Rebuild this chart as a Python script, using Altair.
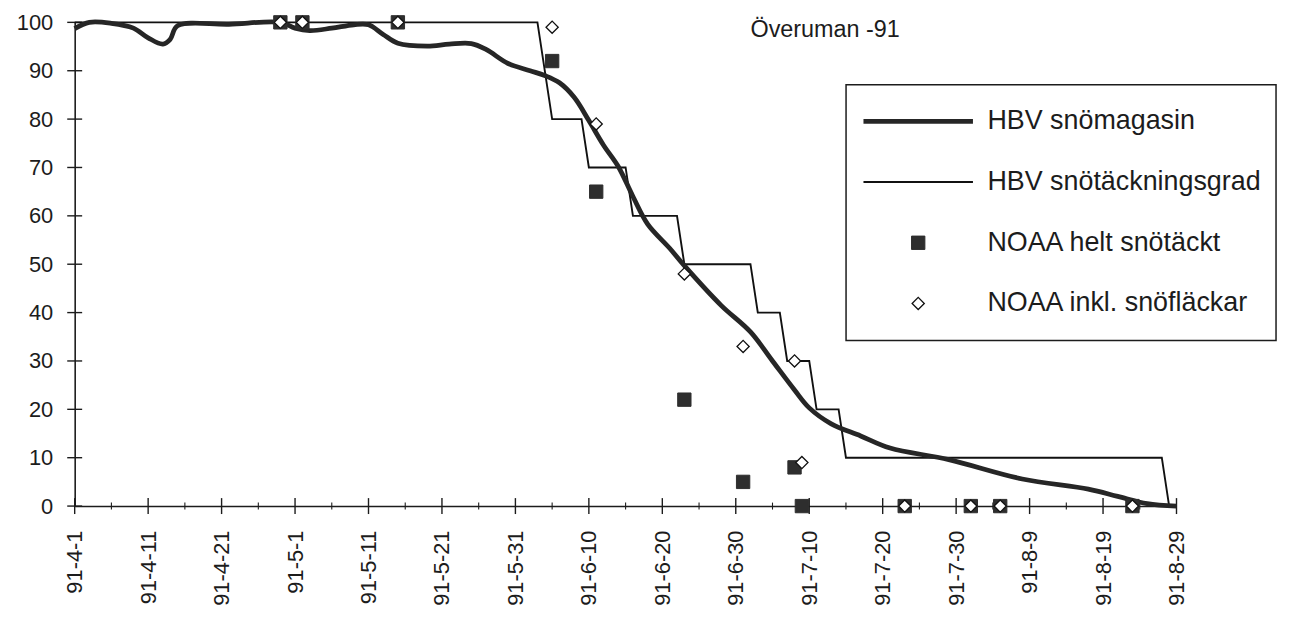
import altair as alt
import pandas as pd

# ---------------- data ----------------
series_names = ["HBV snömagasin", "HBV snötäckningsgrad",
                "NOAA helt snötäckt", "NOAA inkl. snöfläckar"]

# HBV snömagasin (thick smooth line)
mag_dates = ["1991-04-01", "1991-04-03", "1991-04-06", "1991-04-09", "1991-04-11",
             "1991-04-13", "1991-04-14", "1991-04-15", "1991-04-22", "1991-04-29",
             "1991-05-01", "1991-05-03", "1991-05-06", "1991-05-09", "1991-05-11",
             "1991-05-13", "1991-05-15", "1991-05-19", "1991-05-22", "1991-05-25",
             "1991-05-27", "1991-05-30", "1991-06-02", "1991-06-04", "1991-06-06",
             "1991-06-08", "1991-06-10", "1991-06-12", "1991-06-14", "1991-06-16",
             "1991-06-18", "1991-06-21", "1991-06-23", "1991-06-28", "1991-07-02",
             "1991-07-05", "1991-07-08", "1991-07-10", "1991-07-13", "1991-07-17",
             "1991-07-21", "1991-07-29", "1991-08-08", "1991-08-17", "1991-08-21",
             "1991-08-25", "1991-08-29"]
mag_values = [98.7, 100, 99.8, 98.8, 96.8,
              95.5, 96.5, 99.3, 99.6, 100,
              98.8, 98.3, 98.8, 99.5, 99.5,
              97.5, 95.7, 95.1, 95.5, 95.6,
              94.4, 91.5, 90, 89, 87.5,
              84.5, 79.7, 74.6, 70.2, 64,
              58.3, 53.3, 49.7, 41.5, 36,
              30, 24, 20.3, 17, 14.5,
              12, 9.6, 5.6, 3.5, 2,
              0.5, 0]

# HBV snötäckningsgrad (thin step line)
grad_dates = ["1991-04-01", "1991-06-03", "1991-06-05", "1991-06-09", "1991-06-10",
              "1991-06-15", "1991-06-16", "1991-06-22", "1991-06-23", "1991-07-02",
              "1991-07-03", "1991-07-06", "1991-07-07", "1991-07-10", "1991-07-11",
              "1991-07-14", "1991-07-15", "1991-08-27", "1991-08-28"]
grad_values = [100, 100, 80, 80, 70,
               70, 60, 60, 50, 50,
               40, 40, 30, 30, 20,
               20, 10, 10, 0]

# NOAA observations
noaa_dates = ["1991-04-29", "1991-05-02", "1991-05-15", "1991-06-05", "1991-06-11",
              "1991-06-23", "1991-07-01", "1991-07-08", "1991-07-09", "1991-07-23",
              "1991-08-01", "1991-08-05", "1991-08-23"]
noaa_full = [100, 100, 100, 92, 65, 22, 5, 8, 0, 0, 0, 0, 0]
noaa_incl = [100, 100, 100, 99, 79, 48, 33, 30, 9, 0, 0, 0, 0]

# axes
x_tick_dates = ["1991-04-01", "1991-04-11", "1991-04-21", "1991-05-01", "1991-05-11",
                "1991-05-21", "1991-05-31", "1991-06-10", "1991-06-20", "1991-06-30",
                "1991-07-10", "1991-07-20", "1991-07-30", "1991-08-09", "1991-08-19",
                "1991-08-29"]
x_minor_dates = ["1991-04-06", "1991-04-16", "1991-04-26", "1991-05-06", "1991-05-16",
                 "1991-05-26", "1991-06-05", "1991-06-15", "1991-06-25", "1991-07-05",
                 "1991-07-15", "1991-07-25", "1991-08-04", "1991-08-14", "1991-08-24"]
x_tick_format = "%y-%-m-%-d"   # gives 91-4-1 ...
y_ticks = [0, 10, 20, 30, 40, 50, 60, 70, 80, 90, 100]

title_text = "Överuman -91"
title_date = "1991-07-02"
title_value = 98.4

FONT = "Liberation Sans"
INK = "#1c1c1c"


def dt(s):
    y, m, d = (int(p) for p in s.split("-"))
    return alt.DateTime(year=y, month=m, date=d, utc=True)


# ---------------- tables ----------------
mag_df = pd.DataFrame({"date": mag_dates, "value": mag_values, "series": series_names[0]})
grad_df = pd.DataFrame({"date": grad_dates, "value": grad_values, "series": series_names[1]})
full_df = pd.DataFrame({"date": noaa_dates, "value": noaa_full, "series": series_names[2]})
incl_df = pd.DataFrame({"date": noaa_dates, "value": noaa_incl, "series": series_names[3]})
xmaj_df = pd.DataFrame({"date": x_tick_dates, "value": 0})
xmin_df = pd.DataFrame({"date": x_minor_dates, "value": 0})
ytk_df = pd.DataFrame({"date": x_tick_dates[0], "value": y_ticks})
title_df = pd.DataFrame({"date": [title_date], "value": [title_value], "label": [title_text]})

# ---------------- encodings ----------------
x_enc = alt.X(
    "date:T",
    scale=alt.Scale(type="utc", domain=[dt(x_tick_dates[0]), dt(x_tick_dates[-1])], nice=False),
    axis=alt.Axis(values=[dt(d) for d in x_tick_dates],
                  labelExpr=f"utcFormat(datum.value, '{x_tick_format}')",
                  labelAngle=-90, ticks=False, labelPadding=24, grid=False, title=None,
                  labelOverlap=False),
)
y_enc = alt.Y(
    "value:Q",
    scale=alt.Scale(domain=[0, 100], nice=False),
    axis=alt.Axis(values=y_ticks, ticks=False, labelPadding=22, grid=False, title=None),
)

leg = alt.Legend(title=None)
dom = series_names
stroke_enc = alt.Stroke("series:N", scale=alt.Scale(type="ordinal", domain=dom, range=["#262626", "#111111", "#2e2e2e", "#111111"]), legend=leg)
sw_enc = alt.StrokeWidth("series:N", scale=alt.Scale(type="ordinal", domain=dom, range=[4.8, 1.9, 1, 1.3]), legend=leg)
shape_enc = alt.Shape("series:N", scale=alt.Scale(type="ordinal", domain=dom, range=["stroke", "stroke", "square", "diamond"]), legend=leg)
size_enc = alt.Size("series:N", scale=alt.Scale(type="ordinal", domain=dom, range=[12100, 12100, 180, 150]), legend=leg)
fill_enc = alt.Fill("series:N", scale=alt.Scale(type="ordinal", domain=dom, range=["transparent", "transparent", "#2e2e2e", "white"]), legend=leg)

# ---------------- layers ----------------
mag_line = alt.Chart(mag_df).mark_line(interpolate="catmull-rom").encode(
    x=x_enc, y=y_enc, stroke=stroke_enc, strokeWidth=sw_enc)
grad_line = alt.Chart(grad_df).mark_line().encode(
    x=x_enc, y=y_enc, stroke=stroke_enc, strokeWidth=sw_enc)
full_pts = alt.Chart(full_df).mark_point(opacity=1).encode(
    x=x_enc, y=y_enc, shape=shape_enc, size=size_enc, stroke=stroke_enc, fill=fill_enc, strokeWidth=sw_enc)
incl_pts = alt.Chart(incl_df).mark_point(opacity=1).encode(
    x=x_enc, y=y_enc, shape=shape_enc, size=size_enc, stroke=stroke_enc, fill=fill_enc, strokeWidth=sw_enc)

xmaj = alt.Chart(xmaj_df).mark_tick(orient="vertical", size=16, thickness=1.4, color=INK, opacity=1).encode(x=x_enc, y=y_enc)
xmin = alt.Chart(xmin_df).mark_tick(orient="vertical", size=7, thickness=1.1, color=INK, opacity=1).encode(x=x_enc, y=y_enc)
ytk = alt.Chart(ytk_df).mark_tick(orient="horizontal", size=15, thickness=1.4, color=INK, opacity=1).encode(x=x_enc, y=y_enc)

title = alt.Chart(title_df).mark_text(align="left", baseline="middle", fontSize=23.5, font=FONT, color=INK).encode(
    x=x_enc, y=y_enc, text="label:N")

chart = alt.layer(xmin, xmaj, ytk, grad_line, mag_line, full_pts, incl_pts, title).properties(
    width=1107, height=486,
    padding={"left": 8, "top": 2, "right": 5, "bottom": 5},
    background="white",
).configure_view(
    strokeWidth=0
).configure_axis(
    labelFont=FONT, labelFontSize=22, labelColor=INK,
    domainColor=INK, domainWidth=1.6,
).configure_legend(
    orient="none", legendX=775, legendY=62.7,
    padding=15, strokeColor=INK, strokeWidth=1.5, fillColor="white",
    clipHeight=43.5, rowPadding=17,
    labelFont=FONT, labelFontSize=27, labelColor=INK, labelOffset=12,
    symbolOpacity=1, labelLimit=0,
)

chart.save("out.html", embed_options={"renderer": "svg", "actions": False})
